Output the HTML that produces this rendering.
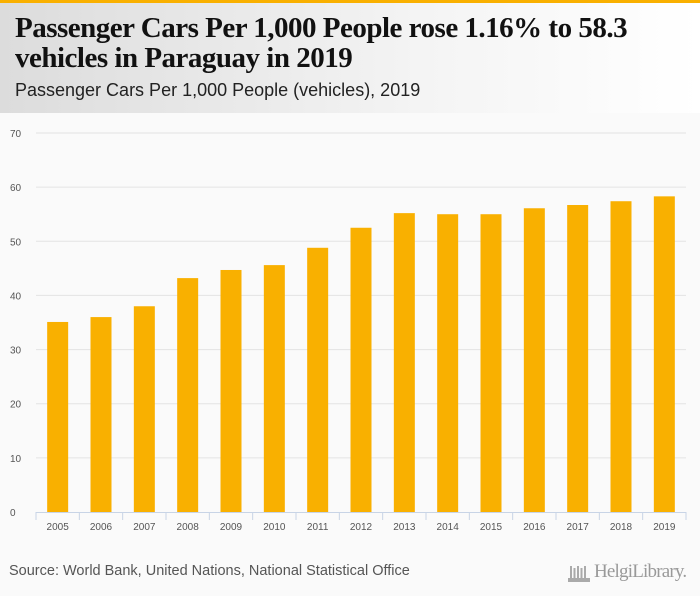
<!DOCTYPE html>
<html><head><meta charset="utf-8"><style>
html,body{margin:0;width:700px;height:596px;overflow:hidden}
body{background:#fafafa;font-family:"Liberation Sans",sans-serif;position:relative}
#topbar{position:absolute;left:0;top:0;width:700px;height:3px;background:#f9b000}
#header{position:absolute;left:0;top:3px;width:700px;height:110px;background:linear-gradient(90deg,#dcdcdc,#f4f4f4 60%,#ffffff)}
#title{position:absolute;left:15px;top:13px;font-family:"Liberation Serif",serif;font-size:29px;font-weight:bold;line-height:30px;color:#111;letter-spacing:-0.5px;white-space:nowrap}
#subtitle{position:absolute;left:15px;top:80px;font-size:18px;color:#222;white-space:nowrap}
#source{position:absolute;left:9px;top:563px;font-size:14.5px;color:#555;white-space:nowrap}
#logo{position:absolute;left:594px;top:561px;font-family:"Liberation Serif",serif;font-size:19px;color:#999;letter-spacing:-0.8px;white-space:nowrap}
svg{position:absolute;left:0;top:0}
</style></head><body>
<div id="topbar"></div>
<div id="header"></div>
<div id="title">Passenger Cars Per 1,000 People rose 1.16% to 58.3<br>vehicles in Paraguay in 2019</div>
<div id="subtitle">Passenger Cars Per 1,000 People (vehicles), 2019</div>
<svg id="chart" width="700" height="596"></svg>
<div id="source">Source: World Bank, United Nations, National Statistical Office</div>
<div id="logo">HelgiLibrary.</div>
<script>
const categories=["2005","2006","2007","2008","2009","2010","2011","2012","2013","2014","2015","2016","2017","2018","2019"];
const values=[35.1,36.0,38.0,43.2,44.7,45.6,48.8,52.5,55.2,55.0,55.0,56.1,56.7,57.4,58.3];
const yTicks=[0,10,20,30,40,50,60,70];
const NS="http://www.w3.org/2000/svg";
const svg=document.getElementById('chart');
const x0=36,x1=686,y0=512,y1=133,yMax=70;
const band=(x1-x0)/categories.length;
const yS=v=>y0-(v/yMax)*(y0-y1);
const xS=i=>x0+band*(i+0.5);
function mk(t,a){const e=document.createElementNS(NS,t);for(const k in a)e.setAttribute(k,a[k]);svg.appendChild(e);return e;}
yTicks.forEach(t=>{
 if(t>0){const l=mk('line',{x1:x0,x2:x1,y1:yS(t),y2:yS(t),stroke:'#e3e3e3','stroke-width':1});
 
 }
 const tx=mk('text',{x:10,y:yS(t)+4,'font-size':10,fill:'#555','font-family':'Liberation Sans, sans-serif'});
 tx.textContent=t;
 
 
});
values.forEach((v,i)=>{
 const r=mk('rect',{x:xS(i)-10.5,y:yS(v),width:21,height:y0-yS(v),fill:'#f9b000'});
 
 
 const tx=mk('text',{x:xS(i),y:530,'font-size':10,fill:'#555','text-anchor':'middle','font-family':'Liberation Sans, sans-serif'});
 tx.textContent=categories[i];
 
 
});
const ax=mk('line',{x1:x0,x2:x1,y1:y0+0.5,y2:y0+0.5,stroke:'#c8d4e6','stroke-width':1});


for(let i=0;i<=categories.length;i++){
 const tk=mk('line',{x1:x0+band*i,x2:x0+band*i,y1:y0,y2:y0+8,stroke:'#c8d4e6','stroke-width':1});
 
 
}
[0,1,2,3,4].forEach(k=>{
 const b=mk('rect',{x:570+k*3.5,y:566+(k%2)*2,width:2,height:12-(k%2)*2,fill:'#aaa'});
 
 
});
const base=mk('rect',{x:568,y:578,width:22,height:4,fill:'#aaa'});


</script>
</body></html>
